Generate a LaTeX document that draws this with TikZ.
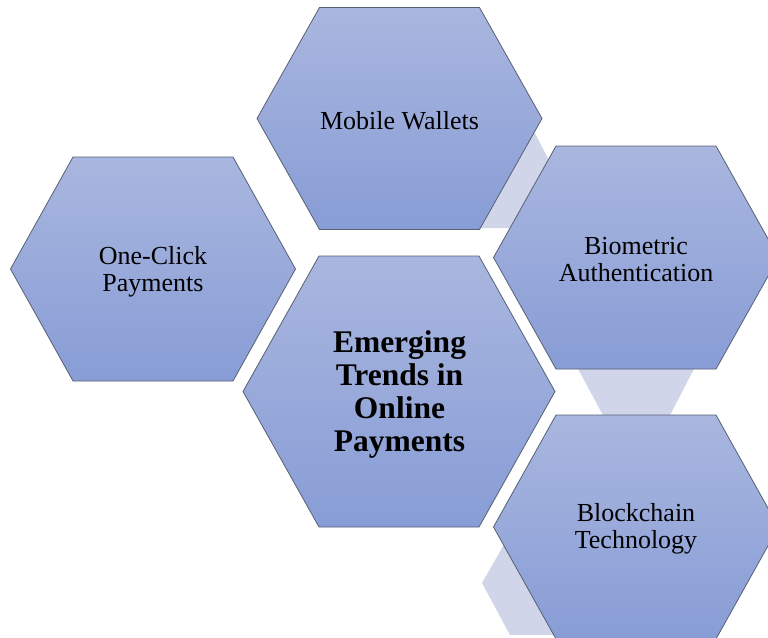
\documentclass[tikz,border=0pt]{standalone}
\usepackage{fontspec}
\setmainfont{Liberation Serif}
\definecolor{hextop}{RGB}{169,182,223}
\definecolor{hexbot}{RGB}{136,157,214}
\definecolor{hexline}{RGB}{88,96,116}
\definecolor{bandcol}{RGB}{208,213,234}
\tikzset{
  hexshape/.style={draw=hexline, line width=0.8pt, top color=hextop, bottom color=hexbot, line join=miter},
  bandshape/.style={fill=bandcol, draw=none},
  txt/.style={align=center, font=\fontsize{26}{27}\selectfont, text=black, inner sep=0pt},
  maintxt/.style={align=center, font=\fontsize{31.5}{33}\selectfont\bfseries, text=black, inner sep=0pt}
}
\newcommand{\hexat}[5]{%
  \path[hexshape] (#1-#4,#2) -- (#1-#3,#2-#5) -- (#1+#3,#2-#5) -- (#1+#4,#2)
     -- (#1+#3,#2+#5) -- (#1-#3,#2+#5) -- cycle;}
\begin{document}
\begin{tikzpicture}[x=1pt,y=-1pt]
\useasboundingbox (0,0) rectangle (768,637);
\clip (0,0) rectangle (768,637);
% light connector bands (behind)
\path[bandshape] (527,118) -- (552,166) -- (515,228) -- (478,228) -- cycle;
\path[bandshape] (576,365) -- (696,365) -- (668,419) -- (605,419) -- cycle;
\path[bandshape] (482,583) -- (506,541) -- (600,541) -- (600,635) -- (510,635) -- cycle;
% hexagons
\hexat{399.5}{118.5}{80}{142.5}{111}
\hexat{153}{269}{80}{142.5}{112}
\hexat{636}{257.5}{80}{142.5}{111.5}
\hexat{636}{527}{80}{142.5}{112}
\hexat{399}{391.5}{80}{156}{135.5}
% labels
\node[txt] (mw) at (399.5,120.5) {Mobile Wallets};
\node[txt] (oc) at (153,272) {One-Click\\Payments};
\node[txt] (bio) at (636,259.5) {Biometric\\Authentication};
\node[txt] (bc) at (636,528.5) {Blockchain\\Technology};
\node[maintxt] (ctr) at (399.5,394) {Emerging\\Trends in\\Online\\Payments};
\end{tikzpicture}
\end{document}
